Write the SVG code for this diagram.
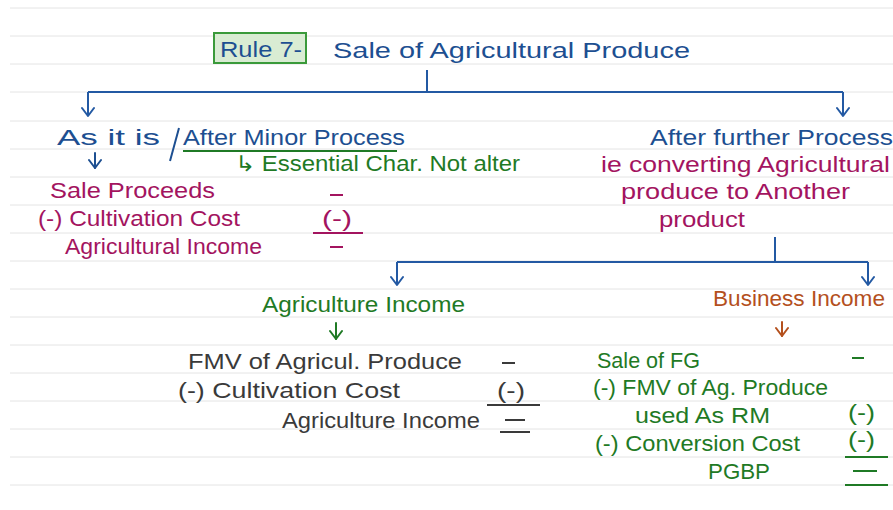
<svg xmlns="http://www.w3.org/2000/svg" width="893" height="510" viewBox="0 0 893 510">
  <defs>
    <marker id="arrow" viewBox="0 0 12 14" refX="10" refY="7" markerWidth="12" markerHeight="14" markerUnits="userSpaceOnUse" orient="auto">
      <polyline points="2,1 10,7 2,13" fill="none" stroke="context-stroke" stroke-width="2" stroke-linecap="round" stroke-linejoin="round"/>
    </marker>
    <style>
      text { font-family: "Liberation Sans", "DejaVu Sans", sans-serif; font-size: 22px; }
      .rule { stroke: #e4e4e4; stroke-width: 1; }
      .blue { fill: #1d4f91; }
      .green { fill: #1f7a25; }
      .mag { fill: #a3145f; }
      .orange { fill: #b4501d; }
      .dark { fill: #3a3a3a; }
      .conn { fill: none; stroke: #2359a3; stroke-width: 2; }
      .small-arrow { fill: none; stroke-width: 2; stroke-linecap: round; }
      .uline { stroke-width: 2; }
    </style>
  </defs>

  <rect width="893" height="510" fill="#ffffff"/>

  <!-- ruled notebook lines -->
  <g id="ruled-lines">
    <line class="rule" x1="10" y1="8" x2="893" y2="8"/>
    <line class="rule" x1="10" y1="36" x2="893" y2="36"/>
    <line class="rule" x1="10" y1="64" x2="893" y2="64"/>
    <line class="rule" x1="10" y1="92" x2="893" y2="92"/>
    <line class="rule" x1="10" y1="121" x2="893" y2="121"/>
    <line class="rule" x1="10" y1="149" x2="893" y2="149"/>
    <line class="rule" x1="10" y1="177" x2="893" y2="177"/>
    <line class="rule" x1="10" y1="205" x2="893" y2="205"/>
    <line class="rule" x1="10" y1="233" x2="893" y2="233"/>
    <line class="rule" x1="10" y1="261" x2="893" y2="261"/>
    <line class="rule" x1="10" y1="289" x2="893" y2="289"/>
    <line class="rule" x1="10" y1="317" x2="893" y2="317"/>
    <line class="rule" x1="10" y1="345" x2="893" y2="345"/>
    <line class="rule" x1="10" y1="373" x2="893" y2="373"/>
    <line class="rule" x1="10" y1="401" x2="893" y2="401"/>
    <line class="rule" x1="10" y1="429" x2="893" y2="429"/>
    <line class="rule" x1="10" y1="457" x2="893" y2="457"/>
    <line class="rule" x1="10" y1="485" x2="893" y2="485"/>
  </g>

  <!-- title -->
  <g id="title">
    <rect x="214" y="33" width="92" height="30" fill="#d9ecd3" stroke="#3a9a3a" stroke-width="2"/>
    <text class="blue" x="220" y="57" textLength="82" lengthAdjust="spacingAndGlyphs">Rule 7-</text>
    <text class="blue" x="333" y="58" font-size="24" textLength="357" lengthAdjust="spacingAndGlyphs">Sale of Agricultural Produce</text>
  </g>

  <!-- connectors -->
  <g id="connectors">
    <path class="conn" d="M427 70 V92"/>
    <path class="conn" d="M88 92 H843"/>
    <path class="conn" d="M88 92 V116" marker-end="url(#arrow)"/>
    <path class="conn" d="M843 92 V116" marker-end="url(#arrow)"/>
    <path class="conn" d="M775 237 V262"/>
    <path class="conn" d="M397 262 H868"/>
    <path class="conn" d="M397 262 V285" marker-end="url(#arrow)"/>
    <path class="conn" d="M868 262 V285" marker-end="url(#arrow)"/>
  </g>

  <!-- left branch: as it is / after minor process -->
  <g id="as-it-is">
    <text class="blue" x="57" y="145" font-size="24" textLength="103" lengthAdjust="spacingAndGlyphs">As it is</text>
    <line x1="179" y1="128" x2="170" y2="161" stroke="#1d4f91" stroke-width="2"/>
    <text class="blue" x="183" y="145" textLength="222" lengthAdjust="spacingAndGlyphs">After Minor Process</text>
    <line class="uline" x1="183" y1="151" x2="397" y2="151" stroke="#1f7a25"/>
    <text class="green" x="235" y="171" textLength="285" lengthAdjust="spacingAndGlyphs">↳ Essential Char. Not alter</text>
    <path class="small-arrow" stroke="#1d4f91" d="M95 153 V168" marker-end="url(#arrow)"/>
  </g>

  <g id="agri-income-simple">
    <text class="mag" x="50" y="198" textLength="165" lengthAdjust="spacingAndGlyphs">Sale Proceeds</text>
    <text class="mag" x="38" y="226" textLength="202" lengthAdjust="spacingAndGlyphs">(-) Cultivation Cost</text>
    <text class="mag" x="65" y="254" textLength="197" lengthAdjust="spacingAndGlyphs">Agricultural Income</text>
    <line class="uline" x1="330" y1="195" x2="343" y2="195" stroke="#a3145f"/>
    <text class="mag" x="322" y="226" font-size="18" textLength="30" lengthAdjust="spacingAndGlyphs">(-)</text>
    <line class="uline" x1="313" y1="233" x2="363" y2="233" stroke="#a3145f"/>
    <line class="uline" x1="330" y1="247" x2="343" y2="247" stroke="#a3145f"/>
  </g>

  <!-- right branch: after further process -->
  <g id="further-process">
    <text class="blue" x="650" y="145" textLength="243" lengthAdjust="spacingAndGlyphs">After further Process</text>
    <text class="mag" x="601" y="172" textLength="289" lengthAdjust="spacingAndGlyphs">ie converting Agricultural</text>
    <text class="mag" x="621" y="199" textLength="229" lengthAdjust="spacingAndGlyphs">produce to Another</text>
    <text class="mag" x="659" y="227" textLength="86" lengthAdjust="spacingAndGlyphs">product</text>
  </g>

  <!-- agriculture income part -->
  <g id="agriculture-income">
    <text class="green" x="262" y="312" textLength="203" lengthAdjust="spacingAndGlyphs">Agriculture Income</text>
    <path class="small-arrow" stroke="#1f7a25" d="M336 323 V339" marker-end="url(#arrow)"/>
    <text class="dark" x="188" y="369" textLength="274" lengthAdjust="spacingAndGlyphs">FMV of Agricul. Produce</text>
    <text class="dark" x="178" y="398" textLength="222" lengthAdjust="spacingAndGlyphs">(-) Cultivation Cost</text>
    <text class="dark" x="282" y="428" textLength="198" lengthAdjust="spacingAndGlyphs">Agriculture Income</text>
    <line class="uline" x1="502" y1="363" x2="515" y2="363" stroke="#3a3a3a"/>
    <text class="dark" x="497" y="398" font-size="18" textLength="28" lengthAdjust="spacingAndGlyphs">(-)</text>
    <line class="uline" x1="487" y1="405" x2="540" y2="405" stroke="#3a3a3a"/>
    <line class="uline" x1="505" y1="420" x2="525" y2="420" stroke="#3a3a3a"/>
    <line class="uline" x1="500" y1="432" x2="530" y2="432" stroke="#3a3a3a"/>
  </g>

  <!-- business income part -->
  <g id="business-income">
    <text class="orange" x="713" y="306" textLength="172" lengthAdjust="spacingAndGlyphs">Business Income</text>
    <path class="small-arrow" stroke="#b4501d" d="M782 322 V336" marker-end="url(#arrow)"/>
    <text class="green" x="597" y="368" textLength="103" lengthAdjust="spacingAndGlyphs">Sale of FG</text>
    <text class="green" x="593" y="395" textLength="235" lengthAdjust="spacingAndGlyphs">(-) FMV of Ag. Produce</text>
    <text class="green" x="635" y="423" textLength="135" lengthAdjust="spacingAndGlyphs">used As RM</text>
    <text class="green" x="595" y="451" textLength="205" lengthAdjust="spacingAndGlyphs">(-) Conversion Cost</text>
    <text class="green" x="708" y="479" textLength="62" lengthAdjust="spacingAndGlyphs">PGBP</text>
    <line class="uline" x1="852" y1="358" x2="864" y2="358" stroke="#1f7a25"/>
    <text class="green" x="848" y="420" font-size="18" textLength="27" lengthAdjust="spacingAndGlyphs">(-)</text>
    <text class="green" x="848" y="447" font-size="18" textLength="27" lengthAdjust="spacingAndGlyphs">(-)</text>
    <line class="uline" x1="845" y1="457" x2="888" y2="457" stroke="#1f7a25"/>
    <line class="uline" x1="853" y1="471" x2="877" y2="471" stroke="#1f7a25"/>
    <line class="uline" x1="845" y1="485" x2="888" y2="485" stroke="#1f7a25"/>
  </g>
</svg>
